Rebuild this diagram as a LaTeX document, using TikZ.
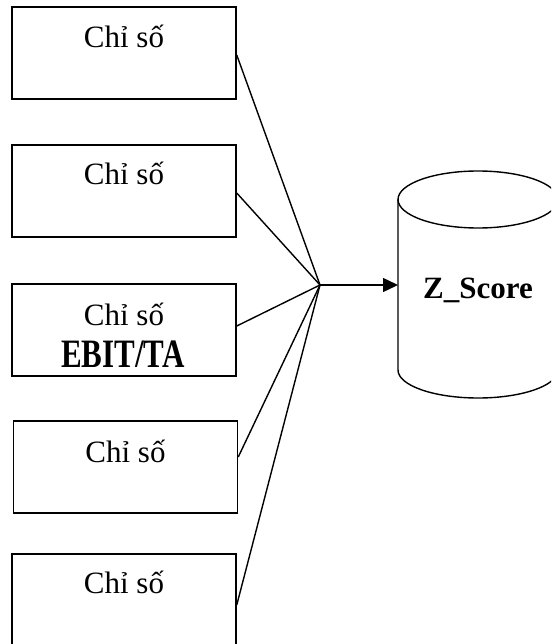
\documentclass[tikz,border=0pt]{standalone}
\usepackage{fontspec}
\setmainfont{Liberation Serif}
\usetikzlibrary{calc,arrows.meta}
\begin{document}
\begin{tikzpicture}[x=1pt,y=-1pt,
  box/.style={draw, line width=1.5pt, minimum width=224pt, minimum height=92pt, inner sep=0pt},
  txt/.style={anchor=base, inner sep=0pt, font=\fontsize{31}{31}\selectfont},
  btxt/.style={anchor=base, inner sep=0pt, font=\fontsize{31}{31}\selectfont\bfseries},
  conn/.style={line width=1.4pt},
  cyl/.style={line width=1.4pt}]
\useasboundingbox (0,0) rectangle (551,644);
\clip (0,0) rectangle (551,644);
% boxes
\node[box] (b1) at (124,53) {};
\node[box] (b2) at (124,191) {};
\node[box] (b3) at (124,330) {};
\node[box] (b4) at (125.5,467) {};
\node[box] (b5) at (124,600) {};
% texts
\node[txt] (t1) at (124,48) {Chỉ số};
\node[txt] (t2) at (124,185) {Chỉ số};
\node[txt] (t3) at (124,325) {Chỉ số};
\begin{scope}
\clip (13,285) rectangle (235,366);
\node[btxt, yscale=1.3, transform shape] (t3b) at (123,367.5) {EBIT/TA};
\end{scope}
\node[txt] (t4) at (125.5,462) {Chỉ số};
\node[txt] (t5) at (124,593) {Chỉ số};
% cylinder
\draw[cyl] (478,199.5) ellipse [x radius=80, y radius=28.5];
\draw[cyl] (398,199.5) -- (398,370) arc[start angle=180, end angle=360, x radius=80, y radius=-28] -- (558,199.5);
\node[btxt] (z) at (478,298) {Z\_Score};
\coordinate (zin) at (398,285);
% hub
\coordinate (hub) at (320,285);
\draw[conn] ($(b1.east)+(0,2)$) -- (hub);
\draw[conn] ($(b2.east)+(0,2)$) -- (hub);
\draw[conn] ($(b3.east)+(0,-4)$) -- (hub);
\draw[conn] ($(b4.east)+(0,-10)$) -- (hub);
\draw[conn] ($(b5.east)+(0,5)$) -- (hub);
\draw[conn, -{Triangle[length=15pt,width=14pt]}] (hub) -- (zin);
\end{tikzpicture}
\end{document}
